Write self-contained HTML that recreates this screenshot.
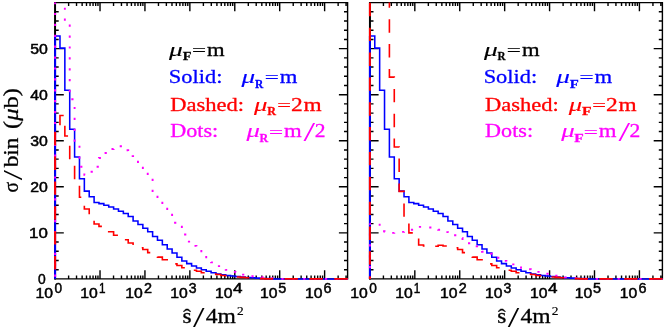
<!DOCTYPE html><html><head><meta charset='utf-8'><title>plot</title><style>html,body{margin:0;padding:0;background:#fff}</style></head><body><svg width='664' height='330' viewBox='0 0 664 330' style='display:block'>
<rect width='664' height='330' fill='#fff'/>
<path d='M55.1,2.6 H347.6 V278.9 H55.1 Z M68.62,278.9 v-3.5 M68.62,2.6 v3.5 M76.53,278.9 v-3.5 M76.53,2.6 v3.5 M82.14,278.9 v-3.5 M82.14,2.6 v3.5 M86.50,278.9 v-3.5 M86.50,2.6 v3.5 M90.05,278.9 v-3.5 M90.05,2.6 v3.5 M93.06,278.9 v-3.5 M93.06,2.6 v3.5 M95.67,278.9 v-3.5 M95.67,2.6 v3.5 M97.96,278.9 v-3.5 M97.96,2.6 v3.5 M100.02,278.9 v-8.7 M100.02,2.6 v8.7 M113.54,278.9 v-3.5 M113.54,2.6 v3.5 M121.45,278.9 v-3.5 M121.45,2.6 v3.5 M127.06,278.9 v-3.5 M127.06,2.6 v3.5 M131.42,278.9 v-3.5 M131.42,2.6 v3.5 M134.97,278.9 v-3.5 M134.97,2.6 v3.5 M137.98,278.9 v-3.5 M137.98,2.6 v3.5 M140.59,278.9 v-3.5 M140.59,2.6 v3.5 M142.88,278.9 v-3.5 M142.88,2.6 v3.5 M144.94,278.9 v-8.7 M144.94,2.6 v8.7 M158.46,278.9 v-3.5 M158.46,2.6 v3.5 M166.37,278.9 v-3.5 M166.37,2.6 v3.5 M171.98,278.9 v-3.5 M171.98,2.6 v3.5 M176.34,278.9 v-3.5 M176.34,2.6 v3.5 M179.89,278.9 v-3.5 M179.89,2.6 v3.5 M182.90,278.9 v-3.5 M182.90,2.6 v3.5 M185.51,278.9 v-3.5 M185.51,2.6 v3.5 M187.80,278.9 v-3.5 M187.80,2.6 v3.5 M189.86,278.9 v-8.7 M189.86,2.6 v8.7 M203.38,278.9 v-3.5 M203.38,2.6 v3.5 M211.29,278.9 v-3.5 M211.29,2.6 v3.5 M216.90,278.9 v-3.5 M216.90,2.6 v3.5 M221.26,278.9 v-3.5 M221.26,2.6 v3.5 M224.81,278.9 v-3.5 M224.81,2.6 v3.5 M227.82,278.9 v-3.5 M227.82,2.6 v3.5 M230.43,278.9 v-3.5 M230.43,2.6 v3.5 M232.72,278.9 v-3.5 M232.72,2.6 v3.5 M234.78,278.9 v-8.7 M234.78,2.6 v8.7 M248.30,278.9 v-3.5 M248.30,2.6 v3.5 M256.21,278.9 v-3.5 M256.21,2.6 v3.5 M261.82,278.9 v-3.5 M261.82,2.6 v3.5 M266.18,278.9 v-3.5 M266.18,2.6 v3.5 M269.73,278.9 v-3.5 M269.73,2.6 v3.5 M272.74,278.9 v-3.5 M272.74,2.6 v3.5 M275.35,278.9 v-3.5 M275.35,2.6 v3.5 M277.64,278.9 v-3.5 M277.64,2.6 v3.5 M279.70,278.9 v-8.7 M279.70,2.6 v8.7 M293.22,278.9 v-3.5 M293.22,2.6 v3.5 M301.13,278.9 v-3.5 M301.13,2.6 v3.5 M306.74,278.9 v-3.5 M306.74,2.6 v3.5 M311.10,278.9 v-3.5 M311.10,2.6 v3.5 M314.65,278.9 v-3.5 M314.65,2.6 v3.5 M317.66,278.9 v-3.5 M317.66,2.6 v3.5 M320.27,278.9 v-3.5 M320.27,2.6 v3.5 M322.56,278.9 v-3.5 M322.56,2.6 v3.5 M324.62,278.9 v-8.7 M324.62,2.6 v8.7 M338.14,278.9 v-3.5 M338.14,2.6 v3.5 M346.05,278.9 v-3.5 M346.05,2.6 v3.5 M55.1,269.69 h3.6 M347.6,269.69 h-3.6 M55.1,260.48 h3.6 M347.6,260.48 h-3.6 M55.1,251.27 h3.6 M347.6,251.27 h-3.6 M55.1,242.06 h3.6 M347.6,242.06 h-3.6 M55.1,232.85 h8.7 M347.6,232.85 h-8.7 M55.1,223.64 h3.6 M347.6,223.64 h-3.6 M55.1,214.43 h3.6 M347.6,214.43 h-3.6 M55.1,205.22 h3.6 M347.6,205.22 h-3.6 M55.1,196.01 h3.6 M347.6,196.01 h-3.6 M55.1,186.80 h8.7 M347.6,186.80 h-8.7 M55.1,177.59 h3.6 M347.6,177.59 h-3.6 M55.1,168.38 h3.6 M347.6,168.38 h-3.6 M55.1,159.17 h3.6 M347.6,159.17 h-3.6 M55.1,149.96 h3.6 M347.6,149.96 h-3.6 M55.1,140.75 h8.7 M347.6,140.75 h-8.7 M55.1,131.54 h3.6 M347.6,131.54 h-3.6 M55.1,122.33 h3.6 M347.6,122.33 h-3.6 M55.1,113.12 h3.6 M347.6,113.12 h-3.6 M55.1,103.91 h3.6 M347.6,103.91 h-3.6 M55.1,94.70 h8.7 M347.6,94.70 h-8.7 M55.1,85.49 h3.6 M347.6,85.49 h-3.6 M55.1,76.28 h3.6 M347.6,76.28 h-3.6 M55.1,67.07 h3.6 M347.6,67.07 h-3.6 M55.1,57.86 h3.6 M347.6,57.86 h-3.6 M55.1,48.65 h8.7 M347.6,48.65 h-8.7 M55.1,39.44 h3.6 M347.6,39.44 h-3.6 M55.1,30.23 h3.6 M347.6,30.23 h-3.6 M55.1,21.02 h3.6 M347.6,21.02 h-3.6 M55.1,11.81 h3.6 M347.6,11.81 h-3.6' fill='none' stroke='#000' stroke-width='1.4' stroke-linecap='butt'/><path d='M55.1,2.0 V279.5' fill='none' stroke='#000' stroke-width='1.9'/>
<path d='M369.90000000000003,2.6 H662.4000000000001 V278.9 H369.90000000000003 Z M383.42,278.9 v-3.5 M383.42,2.6 v3.5 M391.33,278.9 v-3.5 M391.33,2.6 v3.5 M396.94,278.9 v-3.5 M396.94,2.6 v3.5 M401.30,278.9 v-3.5 M401.30,2.6 v3.5 M404.85,278.9 v-3.5 M404.85,2.6 v3.5 M407.86,278.9 v-3.5 M407.86,2.6 v3.5 M410.47,278.9 v-3.5 M410.47,2.6 v3.5 M412.76,278.9 v-3.5 M412.76,2.6 v3.5 M414.82,278.9 v-8.7 M414.82,2.6 v8.7 M428.34,278.9 v-3.5 M428.34,2.6 v3.5 M436.25,278.9 v-3.5 M436.25,2.6 v3.5 M441.86,278.9 v-3.5 M441.86,2.6 v3.5 M446.22,278.9 v-3.5 M446.22,2.6 v3.5 M449.77,278.9 v-3.5 M449.77,2.6 v3.5 M452.78,278.9 v-3.5 M452.78,2.6 v3.5 M455.39,278.9 v-3.5 M455.39,2.6 v3.5 M457.68,278.9 v-3.5 M457.68,2.6 v3.5 M459.74,278.9 v-8.7 M459.74,2.6 v8.7 M473.26,278.9 v-3.5 M473.26,2.6 v3.5 M481.17,278.9 v-3.5 M481.17,2.6 v3.5 M486.78,278.9 v-3.5 M486.78,2.6 v3.5 M491.14,278.9 v-3.5 M491.14,2.6 v3.5 M494.69,278.9 v-3.5 M494.69,2.6 v3.5 M497.70,278.9 v-3.5 M497.70,2.6 v3.5 M500.31,278.9 v-3.5 M500.31,2.6 v3.5 M502.60,278.9 v-3.5 M502.60,2.6 v3.5 M504.66,278.9 v-8.7 M504.66,2.6 v8.7 M518.18,278.9 v-3.5 M518.18,2.6 v3.5 M526.09,278.9 v-3.5 M526.09,2.6 v3.5 M531.70,278.9 v-3.5 M531.70,2.6 v3.5 M536.06,278.9 v-3.5 M536.06,2.6 v3.5 M539.61,278.9 v-3.5 M539.61,2.6 v3.5 M542.62,278.9 v-3.5 M542.62,2.6 v3.5 M545.23,278.9 v-3.5 M545.23,2.6 v3.5 M547.52,278.9 v-3.5 M547.52,2.6 v3.5 M549.58,278.9 v-8.7 M549.58,2.6 v8.7 M563.10,278.9 v-3.5 M563.10,2.6 v3.5 M571.01,278.9 v-3.5 M571.01,2.6 v3.5 M576.62,278.9 v-3.5 M576.62,2.6 v3.5 M580.98,278.9 v-3.5 M580.98,2.6 v3.5 M584.53,278.9 v-3.5 M584.53,2.6 v3.5 M587.54,278.9 v-3.5 M587.54,2.6 v3.5 M590.15,278.9 v-3.5 M590.15,2.6 v3.5 M592.44,278.9 v-3.5 M592.44,2.6 v3.5 M594.50,278.9 v-8.7 M594.50,2.6 v8.7 M608.02,278.9 v-3.5 M608.02,2.6 v3.5 M615.93,278.9 v-3.5 M615.93,2.6 v3.5 M621.54,278.9 v-3.5 M621.54,2.6 v3.5 M625.90,278.9 v-3.5 M625.90,2.6 v3.5 M629.45,278.9 v-3.5 M629.45,2.6 v3.5 M632.46,278.9 v-3.5 M632.46,2.6 v3.5 M635.07,278.9 v-3.5 M635.07,2.6 v3.5 M637.36,278.9 v-3.5 M637.36,2.6 v3.5 M639.42,278.9 v-8.7 M639.42,2.6 v8.7 M652.94,278.9 v-3.5 M652.94,2.6 v3.5 M660.85,278.9 v-3.5 M660.85,2.6 v3.5 M369.90000000000003,269.69 h3.6 M662.4000000000001,269.69 h-3.6 M369.90000000000003,260.48 h3.6 M662.4000000000001,260.48 h-3.6 M369.90000000000003,251.27 h3.6 M662.4000000000001,251.27 h-3.6 M369.90000000000003,242.06 h3.6 M662.4000000000001,242.06 h-3.6 M369.90000000000003,232.85 h8.7 M662.4000000000001,232.85 h-8.7 M369.90000000000003,223.64 h3.6 M662.4000000000001,223.64 h-3.6 M369.90000000000003,214.43 h3.6 M662.4000000000001,214.43 h-3.6 M369.90000000000003,205.22 h3.6 M662.4000000000001,205.22 h-3.6 M369.90000000000003,196.01 h3.6 M662.4000000000001,196.01 h-3.6 M369.90000000000003,186.80 h8.7 M662.4000000000001,186.80 h-8.7 M369.90000000000003,177.59 h3.6 M662.4000000000001,177.59 h-3.6 M369.90000000000003,168.38 h3.6 M662.4000000000001,168.38 h-3.6 M369.90000000000003,159.17 h3.6 M662.4000000000001,159.17 h-3.6 M369.90000000000003,149.96 h3.6 M662.4000000000001,149.96 h-3.6 M369.90000000000003,140.75 h8.7 M662.4000000000001,140.75 h-8.7 M369.90000000000003,131.54 h3.6 M662.4000000000001,131.54 h-3.6 M369.90000000000003,122.33 h3.6 M662.4000000000001,122.33 h-3.6 M369.90000000000003,113.12 h3.6 M662.4000000000001,113.12 h-3.6 M369.90000000000003,103.91 h3.6 M662.4000000000001,103.91 h-3.6 M369.90000000000003,94.70 h8.7 M662.4000000000001,94.70 h-8.7 M369.90000000000003,85.49 h3.6 M662.4000000000001,85.49 h-3.6 M369.90000000000003,76.28 h3.6 M662.4000000000001,76.28 h-3.6 M369.90000000000003,67.07 h3.6 M662.4000000000001,67.07 h-3.6 M369.90000000000003,57.86 h3.6 M662.4000000000001,57.86 h-3.6 M369.90000000000003,48.65 h8.7 M662.4000000000001,48.65 h-8.7 M369.90000000000003,39.44 h3.6 M662.4000000000001,39.44 h-3.6 M369.90000000000003,30.23 h3.6 M662.4000000000001,30.23 h-3.6 M369.90000000000003,21.02 h3.6 M662.4000000000001,21.02 h-3.6 M369.90000000000003,11.81 h3.6 M662.4000000000001,11.81 h-3.6' fill='none' stroke='#000' stroke-width='1.4' stroke-linecap='butt'/><path d='M369.90000000000003,2.0 V279.5' fill='none' stroke='#000' stroke-width='1.9'/>
<path d='M55.10,278.90 L55.10,36.00' fill='none' stroke='#0000ff' stroke-width='2.0'/>
<path d='M55.10,36.00 L59.98,36.00 L59.98,48.10 L64.85,48.10 L64.85,90.30 L69.72,90.30 L69.72,129.20 L74.60,129.20 L74.60,157.00 L79.47,157.00 L79.47,178.80 L84.35,178.80 L84.35,191.10 L89.22,191.10 L89.22,196.80 L94.10,196.80 L94.10,202.40 L98.97,202.40 L98.97,203.60 L103.85,203.60 L103.85,205.20 L108.72,205.20 L108.72,207.00 L113.60,207.00 L113.60,208.90 L118.47,208.90 L118.47,211.20 L123.35,211.20 L123.35,213.50 L128.22,213.50 L128.22,216.50 L133.10,216.50 L133.10,221.00 L137.97,221.00 L137.97,224.50 L142.85,224.50 L142.85,228.20 L147.72,228.20 L147.72,231.80 L152.60,231.80 L152.60,236.40 L157.47,236.40 L157.47,240.30 L162.35,240.30 L162.35,244.80 L167.22,244.80 L167.22,248.90 L172.10,248.90 L172.10,253.00 L176.97,253.00 L176.97,257.30 L181.85,257.30 L181.85,261.00 L186.72,261.00 L186.72,263.60 L191.60,263.60 L191.60,266.00 L196.47,266.00 L196.47,267.90 L201.35,267.90 L201.35,269.70 L206.22,269.70 L206.22,271.20 L211.10,271.20 L211.10,272.70 L215.97,272.70 L215.97,273.90 L220.85,273.90 L220.85,274.80 L225.72,274.80 L225.72,275.50 L230.60,275.50 L230.60,276.00 L235.47,276.00 L235.47,276.50 L240.35,276.50 L240.35,277.00 L245.22,277.00 L245.22,277.40 L250.10,277.40 L250.10,277.80 L254.97,277.80 L254.97,278.10 L259.85,278.10 L259.85,278.40 L264.73,278.40 L264.73,278.60 L269.60,278.60 L269.60,278.90 L274.48,278.90 L274.48,278.90 L279.35,278.90 L279.35,278.90 L284.23,278.90 L284.23,278.90 L289.10,278.90 L289.10,278.90 L293.98,278.90 L293.98,278.90 L298.85,278.90 L298.85,278.90 L303.73,278.90 L303.73,278.90 L308.60,278.90 L308.60,278.90 L313.48,278.90 L313.48,278.90 L318.35,278.90 L318.35,278.90 L323.23,278.90 L323.23,278.90 L328.10,278.90 L328.10,278.90 L332.98,278.90 L332.98,278.90 L337.85,278.90 L337.85,278.90 L342.73,278.90 L342.73,278.90 L347.60,278.90' fill='none' stroke='#0000ff' stroke-width='1.55' stroke-linejoin='miter'/>
<path d='M55.10,278.90 L55.10,2.60' fill='none' stroke='#ff00ff' stroke-width='2.0' stroke-dasharray='2.2 8.7' stroke-dashoffset='-2.2'/>
<path d='M64.85,2.60 L64.85,22.50 L69.72,22.50 L69.72,99.30 L74.60,99.30 L74.60,143.00 L79.47,143.00 L79.47,166.70 L84.35,166.70 L84.35,174.90 L89.22,174.90 L89.22,171.70 L94.10,171.70 L94.10,166.80 L98.97,166.80 L98.97,158.00 L103.85,158.00 L103.85,153.00 L108.72,153.00 L108.72,149.00 L113.60,149.00 L113.60,147.20 L118.47,147.20 L118.47,146.30 L123.35,146.30 L123.35,150.30 L128.22,150.30 L128.22,156.10 L133.10,156.10 L133.10,159.00 L137.97,159.00 L137.97,165.00 L142.85,165.00 L142.85,171.00 L147.72,171.00 L147.72,178.50 L152.60,178.50 L152.60,193.00 L157.47,193.00 L157.47,200.00 L162.35,200.00 L162.35,206.00 L167.22,206.00 L167.22,212.00 L172.10,212.00 L172.10,222.70 L176.97,222.70 L176.97,225.50 L181.85,225.50 L181.85,234.50 L186.72,234.50 L186.72,241.60 L191.60,241.60 L191.60,245.90 L196.47,245.90 L196.47,249.00 L201.35,249.00 L201.35,254.00 L206.22,254.00 L206.22,259.50 L211.10,259.50 L211.10,262.40 L215.97,262.40 L215.97,266.10 L220.85,266.10 L220.85,268.50 L225.72,268.50 L225.72,269.90 L230.60,269.90 L230.60,271.90 L235.47,271.90 L235.47,272.20 L240.35,272.20 L240.35,274.60 L245.22,274.60 L245.22,275.40 L250.10,275.40 L250.10,276.20 L254.97,276.20 L254.97,276.80 L259.85,276.80 L259.85,277.20 L264.73,277.20 L264.73,277.80 L269.60,277.80 L269.60,278.30 L274.48,278.30 L274.48,278.50 L279.35,278.50 L279.35,278.90 L284.23,278.90 L284.23,278.90 L289.10,278.90 L289.10,278.90 L293.98,278.90 L293.98,278.90 L298.85,278.90 L298.85,278.90 L303.73,278.90 L303.73,278.90 L308.60,278.90 L308.60,278.90 L313.48,278.90 L313.48,278.90 L318.35,278.90 L318.35,278.90 L323.23,278.90 L323.23,278.90 L328.10,278.90 L328.10,278.90 L332.98,278.90 L332.98,278.90 L337.85,278.90 L337.85,278.90 L342.73,278.90 L342.73,278.90 L347.60,278.90' fill='none' stroke='#ff00ff' stroke-width='1.9' stroke-linejoin='miter' stroke-dasharray='2.2 8.7' stroke-dashoffset='-5.05'/>
<path d='M55.10,278.90 L55.10,131.00' fill='none' stroke='#ff0000' stroke-width='2.0' stroke-dasharray='13.4 11.45' stroke-dashoffset='-9.5'/>
<path d='M55.10,131.00 L59.98,131.00 L59.98,115.50 L64.85,115.50 L64.85,136.00 L69.72,136.00 L69.72,162.00 L74.60,162.00 L74.60,182.00 L79.47,182.00 L79.47,197.30 L84.35,197.30 L84.35,209.00 L89.22,209.00 L89.22,217.50 L94.10,217.50 L94.10,224.00 L98.97,224.00 L98.97,226.40 L103.85,226.40 L103.85,229.00 L108.72,229.00 L108.72,231.70 L113.60,231.70 L113.60,235.20 L118.47,235.20 L118.47,237.50 L123.35,237.50 L123.35,239.70 L128.22,239.70 L128.22,243.00 L133.10,243.00 L133.10,245.00 L137.97,245.00 L137.97,247.70 L142.85,247.70 L142.85,249.50 L147.72,249.50 L147.72,252.60 L152.60,252.60 L152.60,255.00 L157.47,255.00 L157.47,257.10 L162.35,257.10 L162.35,259.70 L167.22,259.70 L167.22,261.50 L172.10,261.50 L172.10,263.90 L176.97,263.90 L176.97,265.50 L181.85,265.50 L181.85,267.70 L186.72,267.70 L186.72,268.80 L191.60,268.80 L191.60,270.20 L196.47,270.20 L196.47,271.20 L201.35,271.20 L201.35,272.70 L206.22,272.70 L206.22,273.30 L211.10,273.30 L211.10,274.00 L215.97,274.00 L215.97,274.50 L220.85,274.50 L220.85,275.50 L225.72,275.50 L225.72,276.00 L230.60,276.00 L230.60,276.50 L235.47,276.50 L235.47,277.00 L240.35,277.00 L240.35,277.40 L245.22,277.40 L245.22,277.70 L250.10,277.70 L250.10,278.00 L254.97,278.00 L254.97,278.30 L259.85,278.30 L259.85,278.60 L264.73,278.60 L264.73,278.90 L269.60,278.90 L269.60,278.90 L274.48,278.90 L274.48,278.90 L279.35,278.90 L279.35,278.90 L284.23,278.90 L284.23,278.90 L289.10,278.90 L289.10,278.90 L293.98,278.90 L293.98,278.90 L298.85,278.90 L298.85,278.90 L303.73,278.90 L303.73,278.90 L308.60,278.90 L308.60,278.90 L313.48,278.90 L313.48,278.90 L318.35,278.90 L318.35,278.90 L323.23,278.90 L323.23,278.90 L328.10,278.90 L328.10,278.90 L332.98,278.90 L332.98,278.90 L337.85,278.90 L337.85,278.90 L342.73,278.90 L342.73,278.90 L347.60,278.90' fill='none' stroke='#ff0000' stroke-width='1.6' stroke-linejoin='miter' stroke-dasharray='13.4 11.45' stroke-dashoffset='138.40'/>
<path d='M369.90,278.90 L369.90,36.00' fill='none' stroke='#0000ff' stroke-width='2.0'/>
<path d='M369.90,36.00 L374.78,36.00 L374.78,48.10 L379.65,48.10 L379.65,90.30 L384.53,90.30 L384.53,129.20 L389.40,129.20 L389.40,157.00 L394.28,157.00 L394.28,178.80 L399.15,178.80 L399.15,191.10 L404.03,191.10 L404.03,196.80 L408.90,196.80 L408.90,202.40 L413.78,202.40 L413.78,203.60 L418.65,203.60 L418.65,205.20 L423.53,205.20 L423.53,207.00 L428.40,207.00 L428.40,208.90 L433.28,208.90 L433.28,211.20 L438.15,211.20 L438.15,213.50 L443.03,213.50 L443.03,216.50 L447.90,216.50 L447.90,221.00 L452.78,221.00 L452.78,224.50 L457.65,224.50 L457.65,228.20 L462.53,228.20 L462.53,231.80 L467.40,231.80 L467.40,236.40 L472.28,236.40 L472.28,240.30 L477.15,240.30 L477.15,244.80 L482.03,244.80 L482.03,248.90 L486.90,248.90 L486.90,253.00 L491.78,253.00 L491.78,257.30 L496.65,257.30 L496.65,261.00 L501.53,261.00 L501.53,263.60 L506.40,263.60 L506.40,266.00 L511.28,266.00 L511.28,267.90 L516.15,267.90 L516.15,269.70 L521.03,269.70 L521.03,271.20 L525.90,271.20 L525.90,272.70 L530.78,272.70 L530.78,273.90 L535.65,273.90 L535.65,274.80 L540.53,274.80 L540.53,275.50 L545.40,275.50 L545.40,276.00 L550.28,276.00 L550.28,276.50 L555.15,276.50 L555.15,277.00 L560.03,277.00 L560.03,277.40 L564.90,277.40 L564.90,277.80 L569.78,277.80 L569.78,278.10 L574.65,278.10 L574.65,278.40 L579.53,278.40 L579.53,278.60 L584.40,278.60 L584.40,278.90 L589.28,278.90 L589.28,278.90 L594.15,278.90 L594.15,278.90 L599.03,278.90 L599.03,278.90 L603.90,278.90 L603.90,278.90 L608.78,278.90 L608.78,278.90 L613.65,278.90 L613.65,278.90 L618.53,278.90 L618.53,278.90 L623.40,278.90 L623.40,278.90 L628.28,278.90 L628.28,278.90 L633.15,278.90 L633.15,278.90 L638.03,278.90 L638.03,278.90 L642.90,278.90 L642.90,278.90 L647.78,278.90 L647.78,278.90 L652.65,278.90 L652.65,278.90 L657.53,278.90 L657.53,278.90 L662.40,278.90' fill='none' stroke='#0000ff' stroke-width='1.55' stroke-linejoin='miter'/>
<path d='M369.90,278.90 L369.90,223.60' fill='none' stroke='#ff00ff' stroke-width='2.0' stroke-dasharray='2.2 8.7' stroke-dashoffset='0.3'/>
<path d='M369.90,223.60 L374.78,223.60 L374.78,223.60 L379.65,223.60 L379.65,231.10 L384.53,231.10 L384.53,231.70 L389.40,231.70 L389.40,232.90 L394.28,232.90 L394.28,232.30 L399.15,232.30 L399.15,231.90 L404.03,231.90 L404.03,231.00 L408.90,231.00 L408.90,229.80 L413.78,229.80 L413.78,227.50 L418.65,227.50 L418.65,226.90 L423.53,226.90 L423.53,227.30 L428.40,227.30 L428.40,227.50 L433.28,227.50 L433.28,228.70 L438.15,228.70 L438.15,229.70 L443.03,229.70 L443.03,232.10 L447.90,232.10 L447.90,233.00 L452.78,233.00 L452.78,235.30 L457.65,235.30 L457.65,238.00 L462.53,238.00 L462.53,240.50 L467.40,240.50 L467.40,243.20 L472.28,243.20 L472.28,246.40 L477.15,246.40 L477.15,249.00 L482.03,249.00 L482.03,251.70 L486.90,251.70 L486.90,253.70 L491.78,253.70 L491.78,256.00 L496.65,256.00 L496.65,257.70 L501.53,257.70 L501.53,260.90 L506.40,260.90 L506.40,262.00 L511.28,262.00 L511.28,264.40 L516.15,264.40 L516.15,266.00 L521.03,266.00 L521.03,267.80 L525.90,267.80 L525.90,269.30 L530.78,269.30 L530.78,270.50 L535.65,270.50 L535.65,271.90 L540.53,271.90 L540.53,272.80 L545.40,272.80 L545.40,273.80 L550.28,273.80 L550.28,274.80 L555.15,274.80 L555.15,275.80 L560.03,275.80 L560.03,276.60 L564.90,276.60 L564.90,277.40 L569.78,277.40 L569.78,277.70 L574.65,277.70 L574.65,278.10 L579.53,278.10 L579.53,278.40 L584.40,278.40 L584.40,278.70 L589.28,278.70 L589.28,278.90 L594.15,278.90 L594.15,278.90 L599.03,278.90 L599.03,278.90 L603.90,278.90 L603.90,278.90 L608.78,278.90 L608.78,278.90 L613.65,278.90 L613.65,278.90 L618.53,278.90 L618.53,278.90 L623.40,278.90 L623.40,278.90 L628.28,278.90 L628.28,278.90 L633.15,278.90 L633.15,278.90 L638.03,278.90 L638.03,278.90 L642.90,278.90 L642.90,278.90 L647.78,278.90 L647.78,278.90 L652.65,278.90 L652.65,278.90 L657.53,278.90 L657.53,278.90 L662.40,278.90' fill='none' stroke='#ff00ff' stroke-width='1.9' stroke-linejoin='miter' stroke-dasharray='2.2 8.7' stroke-dashoffset='55.60'/>
<path d='M369.90,278.90 L369.90,2.60' fill='none' stroke='#ff0000' stroke-width='2.0' stroke-dasharray='13.4 11.45' stroke-dashoffset='10.7'/>
<path d='M389.40,2.60 L389.40,77.10 L394.28,77.10 L394.28,147.00 L399.15,147.00 L399.15,191.40 L404.03,191.40 L404.03,220.00 L408.90,220.00 L408.90,232.90 L413.78,232.90 L413.78,237.00 L418.65,237.00 L418.65,245.00 L423.53,245.00 L423.53,246.00 L428.40,246.00 L428.40,246.50 L433.28,246.50 L433.28,246.20 L438.15,246.20 L438.15,245.20 L443.03,245.20 L443.03,246.00 L447.90,246.00 L447.90,247.00 L452.78,247.00 L452.78,247.70 L457.65,247.70 L457.65,249.50 L462.53,249.50 L462.53,252.60 L467.40,252.60 L467.40,255.00 L472.28,255.00 L472.28,257.10 L477.15,257.10 L477.15,259.70 L482.03,259.70 L482.03,261.50 L486.90,261.50 L486.90,263.90 L491.78,263.90 L491.78,265.50 L496.65,265.50 L496.65,267.70 L501.53,267.70 L501.53,268.80 L506.40,268.80 L506.40,270.20 L511.28,270.20 L511.28,271.20 L516.15,271.20 L516.15,272.70 L521.03,272.70 L521.03,273.30 L525.90,273.30 L525.90,274.00 L530.78,274.00 L530.78,274.50 L535.65,274.50 L535.65,275.50 L540.53,275.50 L540.53,276.00 L545.40,276.00 L545.40,276.50 L550.28,276.50 L550.28,277.00 L555.15,277.00 L555.15,277.40 L560.03,277.40 L560.03,277.70 L564.90,277.70 L564.90,278.00 L569.78,278.00 L569.78,278.30 L574.65,278.30 L574.65,278.60 L579.53,278.60 L579.53,278.90 L584.40,278.90 L584.40,278.90 L589.28,278.90 L589.28,278.90 L594.15,278.90 L594.15,278.90 L599.03,278.90 L599.03,278.90 L603.90,278.90 L603.90,278.90 L608.78,278.90 L608.78,278.90 L613.65,278.90 L613.65,278.90 L618.53,278.90 L618.53,278.90 L623.40,278.90 L623.40,278.90 L628.28,278.90 L628.28,278.90 L633.15,278.90 L633.15,278.90 L638.03,278.90 L638.03,278.90 L642.90,278.90 L642.90,278.90 L647.78,278.90 L647.78,278.90 L652.65,278.90 L652.65,278.90 L657.53,278.90 L657.53,278.90 L662.40,278.90' fill='none' stroke='#ff0000' stroke-width='1.6' stroke-linejoin='miter' stroke-dasharray='13.4 11.45' stroke-dashoffset='8.2'/>
<g style='opacity:0.999'>
<text transform='translate(169.10,55.70) scale(1.4333,1.0000)' style='font-family:"Liberation Serif", serif;font-size:19.2px;font-weight:normal;font-style:italic;fill:#000000;stroke:#000000;stroke-width:0.12px;'>μ</text>
<text transform='translate(182.70,60.00) scale(1.1857,1.0000)' style='font-family:"Liberation Serif", serif;font-size:12px;font-weight:bold;font-style:normal;fill:#000000;stroke:#000000;stroke-width:0.3px;'>F</text>
<text transform='translate(191.90,56.18) scale(1.3000,0.8200)' style='font-family:"Liberation Serif", serif;font-size:19.2px;font-weight:normal;font-style:normal;fill:#000000;stroke:#000000;stroke-width:0.3px;'>=</text>
<text transform='translate(207.10,55.70) scale(1.1800,1.0000)' style='font-family:"Liberation Serif", serif;font-size:19.2px;font-weight:normal;font-style:normal;fill:#000000;stroke:#000000;stroke-width:0.3px;'>m</text>
<text transform='translate(168.83,82.90) scale(1.1682,1.0000)' style='font-family:"Liberation Serif", serif;font-size:19.2px;font-weight:normal;font-style:normal;fill:#0000ff;stroke:#0000ff;stroke-width:0.3px;'>Solid:</text>
<text transform='translate(241.40,82.90) scale(1.4222,1.0000)' style='font-family:"Liberation Serif", serif;font-size:19.2px;font-weight:normal;font-style:italic;fill:#0000ff;stroke:#0000ff;stroke-width:0.12px;'>μ</text>
<text transform='translate(255.00,87.70) scale(0.9556,1.0000)' style='font-family:"Liberation Serif", serif;font-size:12px;font-weight:bold;font-style:normal;fill:#0000ff;stroke:#0000ff;stroke-width:0.3px;'>R</text>
<text transform='translate(264.70,83.38) scale(1.3000,0.8200)' style='font-family:"Liberation Serif", serif;font-size:19.2px;font-weight:normal;font-style:normal;fill:#0000ff;stroke:#0000ff;stroke-width:0.3px;'>=</text>
<text transform='translate(279.70,82.90) scale(1.1800,1.0000)' style='font-family:"Liberation Serif", serif;font-size:19.2px;font-weight:normal;font-style:normal;fill:#0000ff;stroke:#0000ff;stroke-width:0.3px;'>m</text>
<text transform='translate(170.30,110.50) scale(1.1726,1.0000)' style='font-family:"Liberation Serif", serif;font-size:19.2px;font-weight:normal;font-style:normal;fill:#ff0000;stroke:#ff0000;stroke-width:0.3px;'>Dashed:</text>
<text transform='translate(253.90,110.50) scale(1.4000,1.0000)' style='font-family:"Liberation Serif", serif;font-size:19.2px;font-weight:normal;font-style:italic;fill:#ff0000;stroke:#ff0000;stroke-width:0.12px;'>μ</text>
<text transform='translate(267.30,115.20) scale(1.0111,1.0000)' style='font-family:"Liberation Serif", serif;font-size:12px;font-weight:bold;font-style:normal;fill:#ff0000;stroke:#ff0000;stroke-width:0.3px;'>R</text>
<text transform='translate(277.33,110.98) scale(1.2667,0.8200)' style='font-family:"Liberation Serif", serif;font-size:19.2px;font-weight:normal;font-style:normal;fill:#ff0000;stroke:#ff0000;stroke-width:0.3px;'>=</text>
<text transform='translate(291.07,110.50) scale(1.2250,1.0000)' style='font-family:"Liberation Serif", serif;font-size:19.2px;font-weight:normal;font-style:normal;fill:#ff0000;stroke:#ff0000;stroke-width:0.3px;'>2</text>
<text transform='translate(303.60,110.50) scale(1.2133,1.0000)' style='font-family:"Liberation Serif", serif;font-size:19.2px;font-weight:normal;font-style:normal;fill:#ff0000;stroke:#ff0000;stroke-width:0.3px;'>m</text>
<text transform='translate(170.30,137.30) scale(1.1525,1.0000)' style='font-family:"Liberation Serif", serif;font-size:19.2px;font-weight:normal;font-style:normal;fill:#ff00ff;stroke:#ff00ff;stroke-width:0.3px;'>Dots:</text>
<text transform='translate(246.40,137.30) scale(1.4000,1.0000)' style='font-family:"Liberation Serif", serif;font-size:19.2px;font-weight:normal;font-style:italic;fill:#ff00ff;stroke:#ff00ff;stroke-width:0.12px;'>μ</text>
<text transform='translate(259.50,142.00) scale(1.0000,1.0000)' style='font-family:"Liberation Serif", serif;font-size:12px;font-weight:bold;font-style:normal;fill:#ff00ff;stroke:#ff00ff;stroke-width:0.3px;'>R</text>
<text transform='translate(269.00,137.78) scale(1.3000,0.8200)' style='font-family:"Liberation Serif", serif;font-size:19.2px;font-weight:normal;font-style:normal;fill:#ff00ff;stroke:#ff00ff;stroke-width:0.3px;'>=</text>
<text transform='translate(284.00,137.30) scale(1.1867,1.0000)' style='font-family:"Liberation Serif", serif;font-size:19.2px;font-weight:normal;font-style:normal;fill:#ff00ff;stroke:#ff00ff;stroke-width:0.3px;'>m</text>
<text transform='translate(303.60,140.90) scale(2.1800,1.4615)' style='font-family:"Liberation Serif", serif;font-size:19.2px;font-weight:normal;font-style:normal;fill:#ff00ff;'>/</text>
<text transform='translate(314.68,137.30) scale(1.1250,1.0000)' style='font-family:"Liberation Serif", serif;font-size:19.2px;font-weight:normal;font-style:normal;fill:#ff00ff;stroke:#ff00ff;stroke-width:0.3px;'>2</text>
<text transform='translate(483.90,55.70) scale(1.4333,1.0000)' style='font-family:"Liberation Serif", serif;font-size:19.2px;font-weight:normal;font-style:italic;fill:#000000;stroke:#000000;stroke-width:0.12px;'>μ</text>
<text transform='translate(497.50,60.00) scale(0.9222,1.0000)' style='font-family:"Liberation Serif", serif;font-size:12px;font-weight:bold;font-style:normal;fill:#000000;stroke:#000000;stroke-width:0.3px;'>R</text>
<text transform='translate(506.70,56.18) scale(1.3000,0.8200)' style='font-family:"Liberation Serif", serif;font-size:19.2px;font-weight:normal;font-style:normal;fill:#000000;stroke:#000000;stroke-width:0.3px;'>=</text>
<text transform='translate(521.90,55.70) scale(1.1800,1.0000)' style='font-family:"Liberation Serif", serif;font-size:19.2px;font-weight:normal;font-style:normal;fill:#000000;stroke:#000000;stroke-width:0.3px;'>m</text>
<text transform='translate(483.63,82.90) scale(1.1682,1.0000)' style='font-family:"Liberation Serif", serif;font-size:19.2px;font-weight:normal;font-style:normal;fill:#0000ff;stroke:#0000ff;stroke-width:0.3px;'>Solid:</text>
<text transform='translate(556.20,82.90) scale(1.4222,1.0000)' style='font-family:"Liberation Serif", serif;font-size:19.2px;font-weight:normal;font-style:italic;fill:#0000ff;stroke:#0000ff;stroke-width:0.12px;'>μ</text>
<text transform='translate(569.80,87.70) scale(1.2286,1.0000)' style='font-family:"Liberation Serif", serif;font-size:12px;font-weight:bold;font-style:normal;fill:#0000ff;stroke:#0000ff;stroke-width:0.3px;'>F</text>
<text transform='translate(579.50,83.38) scale(1.3000,0.8200)' style='font-family:"Liberation Serif", serif;font-size:19.2px;font-weight:normal;font-style:normal;fill:#0000ff;stroke:#0000ff;stroke-width:0.3px;'>=</text>
<text transform='translate(594.50,82.90) scale(1.1800,1.0000)' style='font-family:"Liberation Serif", serif;font-size:19.2px;font-weight:normal;font-style:normal;fill:#0000ff;stroke:#0000ff;stroke-width:0.3px;'>m</text>
<text transform='translate(485.10,110.50) scale(1.1726,1.0000)' style='font-family:"Liberation Serif", serif;font-size:19.2px;font-weight:normal;font-style:normal;fill:#ff0000;stroke:#ff0000;stroke-width:0.3px;'>Dashed:</text>
<text transform='translate(568.70,110.50) scale(1.4000,1.0000)' style='font-family:"Liberation Serif", serif;font-size:19.2px;font-weight:normal;font-style:italic;fill:#ff0000;stroke:#ff0000;stroke-width:0.12px;'>μ</text>
<text transform='translate(582.10,115.20) scale(1.3000,1.0000)' style='font-family:"Liberation Serif", serif;font-size:12px;font-weight:bold;font-style:normal;fill:#ff0000;stroke:#ff0000;stroke-width:0.3px;'>F</text>
<text transform='translate(592.13,110.98) scale(1.2667,0.8200)' style='font-family:"Liberation Serif", serif;font-size:19.2px;font-weight:normal;font-style:normal;fill:#ff0000;stroke:#ff0000;stroke-width:0.3px;'>=</text>
<text transform='translate(605.88,110.50) scale(1.2250,1.0000)' style='font-family:"Liberation Serif", serif;font-size:19.2px;font-weight:normal;font-style:normal;fill:#ff0000;stroke:#ff0000;stroke-width:0.3px;'>2</text>
<text transform='translate(618.40,110.50) scale(1.2133,1.0000)' style='font-family:"Liberation Serif", serif;font-size:19.2px;font-weight:normal;font-style:normal;fill:#ff0000;stroke:#ff0000;stroke-width:0.3px;'>m</text>
<text transform='translate(485.10,137.30) scale(1.1525,1.0000)' style='font-family:"Liberation Serif", serif;font-size:19.2px;font-weight:normal;font-style:normal;fill:#ff00ff;stroke:#ff00ff;stroke-width:0.3px;'>Dots:</text>
<text transform='translate(561.20,137.30) scale(1.4000,1.0000)' style='font-family:"Liberation Serif", serif;font-size:19.2px;font-weight:normal;font-style:italic;fill:#ff00ff;stroke:#ff00ff;stroke-width:0.12px;'>μ</text>
<text transform='translate(574.30,142.00) scale(1.2857,1.0000)' style='font-family:"Liberation Serif", serif;font-size:12px;font-weight:bold;font-style:normal;fill:#ff00ff;stroke:#ff00ff;stroke-width:0.3px;'>F</text>
<text transform='translate(583.80,137.78) scale(1.3000,0.8200)' style='font-family:"Liberation Serif", serif;font-size:19.2px;font-weight:normal;font-style:normal;fill:#ff00ff;stroke:#ff00ff;stroke-width:0.3px;'>=</text>
<text transform='translate(598.80,137.30) scale(1.1867,1.0000)' style='font-family:"Liberation Serif", serif;font-size:19.2px;font-weight:normal;font-style:normal;fill:#ff00ff;stroke:#ff00ff;stroke-width:0.3px;'>m</text>
<text transform='translate(618.40,140.90) scale(2.1800,1.4615)' style='font-family:"Liberation Serif", serif;font-size:19.2px;font-weight:normal;font-style:normal;fill:#ff00ff;'>/</text>
<text transform='translate(629.48,137.30) scale(1.1250,1.0000)' style='font-family:"Liberation Serif", serif;font-size:19.2px;font-weight:normal;font-style:normal;fill:#ff00ff;stroke:#ff00ff;stroke-width:0.3px;'>2</text>
<text transform='translate(38.00,284.30) scale(0.9625,1.0000)' style='font-family:"Liberation Sans", sans-serif;font-size:14.4px;font-weight:normal;font-style:normal;fill:#000000;stroke:#000000;stroke-width:0.5px;'>0</text>
<text transform='translate(29.03,238.25) scale(1.1733,1.0000)' style='font-family:"Liberation Sans", sans-serif;font-size:14.4px;font-weight:normal;font-style:normal;fill:#000000;stroke:#000000;stroke-width:0.5px;'>10</text>
<text transform='translate(30.20,192.20) scale(1.1000,1.0000)' style='font-family:"Liberation Sans", sans-serif;font-size:14.4px;font-weight:normal;font-style:normal;fill:#000000;stroke:#000000;stroke-width:0.5px;'>20</text>
<text transform='translate(30.20,146.15) scale(1.1000,1.0000)' style='font-family:"Liberation Sans", sans-serif;font-size:14.4px;font-weight:normal;font-style:normal;fill:#000000;stroke:#000000;stroke-width:0.5px;'>30</text>
<text transform='translate(30.20,100.10) scale(1.1000,1.0000)' style='font-family:"Liberation Sans", sans-serif;font-size:14.4px;font-weight:normal;font-style:normal;fill:#000000;stroke:#000000;stroke-width:0.5px;'>40</text>
<text transform='translate(30.20,54.05) scale(1.1000,1.0000)' style='font-family:"Liberation Sans", sans-serif;font-size:14.4px;font-weight:normal;font-style:normal;fill:#000000;stroke:#000000;stroke-width:0.5px;'>50</text>
<text transform='translate(35.41,298.40) scale(1.0933,1.0000)' style='font-family:"Liberation Sans", sans-serif;font-size:14.4px;font-weight:normal;font-style:normal;fill:#000000;stroke:#000000;stroke-width:0.5px;'>10</text>
<text transform='translate(54.40,292.80) scale(0.9500,1.0000)' style='font-family:"Liberation Sans", sans-serif;font-size:14.4px;font-weight:normal;font-style:normal;fill:#000000;stroke:#000000;stroke-width:0.5px;'>0</text>
<text transform='translate(80.33,298.40) scale(1.0933,1.0000)' style='font-family:"Liberation Sans", sans-serif;font-size:14.4px;font-weight:normal;font-style:normal;fill:#000000;stroke:#000000;stroke-width:0.5px;'>10</text>
<text transform='translate(99.01,292.80) scale(0.8143,1.0000)' style='font-family:"Liberation Sans", sans-serif;font-size:14.4px;font-weight:normal;font-style:normal;fill:#000000;stroke:#000000;stroke-width:0.5px;'>1</text>
<text transform='translate(125.25,298.40) scale(1.0933,1.0000)' style='font-family:"Liberation Sans", sans-serif;font-size:14.4px;font-weight:normal;font-style:normal;fill:#000000;stroke:#000000;stroke-width:0.5px;'>10</text>
<text transform='translate(143.94,292.80) scale(1.0000,1.0000)' style='font-family:"Liberation Sans", sans-serif;font-size:14.4px;font-weight:normal;font-style:normal;fill:#000000;stroke:#000000;stroke-width:0.5px;'>2</text>
<text transform='translate(170.17,298.40) scale(1.0933,1.0000)' style='font-family:"Liberation Sans", sans-serif;font-size:14.4px;font-weight:normal;font-style:normal;fill:#000000;stroke:#000000;stroke-width:0.5px;'>10</text>
<text transform='translate(188.66,292.80) scale(0.9750,1.0000)' style='font-family:"Liberation Sans", sans-serif;font-size:14.4px;font-weight:normal;font-style:normal;fill:#000000;stroke:#000000;stroke-width:0.5px;'>3</text>
<text transform='translate(215.09,298.40) scale(1.0933,1.0000)' style='font-family:"Liberation Sans", sans-serif;font-size:14.4px;font-weight:normal;font-style:normal;fill:#000000;stroke:#000000;stroke-width:0.5px;'>10</text>
<text transform='translate(233.08,292.80) scale(1.1875,1.0000)' style='font-family:"Liberation Sans", sans-serif;font-size:14.4px;font-weight:normal;font-style:normal;fill:#000000;stroke:#000000;stroke-width:0.5px;'>4</text>
<text transform='translate(260.01,298.40) scale(1.0933,1.0000)' style='font-family:"Liberation Sans", sans-serif;font-size:14.4px;font-weight:normal;font-style:normal;fill:#000000;stroke:#000000;stroke-width:0.5px;'>10</text>
<text transform='translate(278.20,292.80) scale(1.0000,1.0000)' style='font-family:"Liberation Sans", sans-serif;font-size:14.4px;font-weight:normal;font-style:normal;fill:#000000;stroke:#000000;stroke-width:0.5px;'>5</text>
<text transform='translate(304.93,298.40) scale(1.0933,1.0000)' style='font-family:"Liberation Sans", sans-serif;font-size:14.4px;font-weight:normal;font-style:normal;fill:#000000;stroke:#000000;stroke-width:0.5px;'>10</text>
<text transform='translate(323.62,292.80) scale(1.0000,1.0000)' style='font-family:"Liberation Sans", sans-serif;font-size:14.4px;font-weight:normal;font-style:normal;fill:#000000;stroke:#000000;stroke-width:0.5px;'>6</text>
<text transform='translate(182.53,322.90) scale(1.1667,1.0000)' style='font-family:"Liberation Serif", serif;font-size:20px;font-weight:normal;font-style:normal;fill:#000000;stroke:#000000;stroke-width:0.3px;'>ŝ</text>
<text transform='translate(193.00,326.80) scale(2.0667,1.4214)' style='font-family:"Liberation Serif", serif;font-size:20px;font-weight:normal;font-style:normal;fill:#000000;'>/</text>
<text transform='translate(205.70,322.90) scale(1.1800,1.0000)' style='font-family:"Liberation Serif", serif;font-size:20px;font-weight:normal;font-style:normal;fill:#000000;stroke:#000000;stroke-width:0.3px;'>4m</text>
<text transform='translate(237.00,314.60) scale(1.1167,1.0000)' style='font-family:"Liberation Serif", serif;font-size:12px;font-weight:normal;font-style:normal;fill:#000000;stroke:#000000;stroke-width:0.2px;'>2</text>
<text transform='translate(350.21,298.40) scale(1.0933,1.0000)' style='font-family:"Liberation Sans", sans-serif;font-size:14.4px;font-weight:normal;font-style:normal;fill:#000000;stroke:#000000;stroke-width:0.5px;'>10</text>
<text transform='translate(369.20,292.80) scale(0.9500,1.0000)' style='font-family:"Liberation Sans", sans-serif;font-size:14.4px;font-weight:normal;font-style:normal;fill:#000000;stroke:#000000;stroke-width:0.5px;'>0</text>
<text transform='translate(395.13,298.40) scale(1.0933,1.0000)' style='font-family:"Liberation Sans", sans-serif;font-size:14.4px;font-weight:normal;font-style:normal;fill:#000000;stroke:#000000;stroke-width:0.5px;'>10</text>
<text transform='translate(413.81,292.80) scale(0.8143,1.0000)' style='font-family:"Liberation Sans", sans-serif;font-size:14.4px;font-weight:normal;font-style:normal;fill:#000000;stroke:#000000;stroke-width:0.5px;'>1</text>
<text transform='translate(440.05,298.40) scale(1.0933,1.0000)' style='font-family:"Liberation Sans", sans-serif;font-size:14.4px;font-weight:normal;font-style:normal;fill:#000000;stroke:#000000;stroke-width:0.5px;'>10</text>
<text transform='translate(458.74,292.80) scale(1.0000,1.0000)' style='font-family:"Liberation Sans", sans-serif;font-size:14.4px;font-weight:normal;font-style:normal;fill:#000000;stroke:#000000;stroke-width:0.5px;'>2</text>
<text transform='translate(484.97,298.40) scale(1.0933,1.0000)' style='font-family:"Liberation Sans", sans-serif;font-size:14.4px;font-weight:normal;font-style:normal;fill:#000000;stroke:#000000;stroke-width:0.5px;'>10</text>
<text transform='translate(503.46,292.80) scale(0.9750,1.0000)' style='font-family:"Liberation Sans", sans-serif;font-size:14.4px;font-weight:normal;font-style:normal;fill:#000000;stroke:#000000;stroke-width:0.5px;'>3</text>
<text transform='translate(529.89,298.40) scale(1.0933,1.0000)' style='font-family:"Liberation Sans", sans-serif;font-size:14.4px;font-weight:normal;font-style:normal;fill:#000000;stroke:#000000;stroke-width:0.5px;'>10</text>
<text transform='translate(547.88,292.80) scale(1.1875,1.0000)' style='font-family:"Liberation Sans", sans-serif;font-size:14.4px;font-weight:normal;font-style:normal;fill:#000000;stroke:#000000;stroke-width:0.5px;'>4</text>
<text transform='translate(574.81,298.40) scale(1.0933,1.0000)' style='font-family:"Liberation Sans", sans-serif;font-size:14.4px;font-weight:normal;font-style:normal;fill:#000000;stroke:#000000;stroke-width:0.5px;'>10</text>
<text transform='translate(593.00,292.80) scale(1.0000,1.0000)' style='font-family:"Liberation Sans", sans-serif;font-size:14.4px;font-weight:normal;font-style:normal;fill:#000000;stroke:#000000;stroke-width:0.5px;'>5</text>
<text transform='translate(619.73,298.40) scale(1.0933,1.0000)' style='font-family:"Liberation Sans", sans-serif;font-size:14.4px;font-weight:normal;font-style:normal;fill:#000000;stroke:#000000;stroke-width:0.5px;'>10</text>
<text transform='translate(638.42,292.80) scale(1.0000,1.0000)' style='font-family:"Liberation Sans", sans-serif;font-size:14.4px;font-weight:normal;font-style:normal;fill:#000000;stroke:#000000;stroke-width:0.5px;'>6</text>
<text transform='translate(497.33,322.90) scale(1.1667,1.0000)' style='font-family:"Liberation Serif", serif;font-size:20px;font-weight:normal;font-style:normal;fill:#000000;stroke:#000000;stroke-width:0.3px;'>ŝ</text>
<text transform='translate(507.80,326.80) scale(2.0667,1.4214)' style='font-family:"Liberation Serif", serif;font-size:20px;font-weight:normal;font-style:normal;fill:#000000;'>/</text>
<text transform='translate(520.50,322.90) scale(1.1800,1.0000)' style='font-family:"Liberation Serif", serif;font-size:20px;font-weight:normal;font-style:normal;fill:#000000;stroke:#000000;stroke-width:0.3px;'>4m</text>
<text transform='translate(551.80,314.60) scale(1.1167,1.0000)' style='font-family:"Liberation Serif", serif;font-size:12px;font-weight:normal;font-style:normal;fill:#000000;stroke:#000000;stroke-width:0.2px;'>2</text>
<text transform='rotate(-90) translate(-192.57,18.00) scale(0.9700,1.0000)' style='font-family:"Liberation Serif", serif;font-size:20px;font-weight:normal;font-style:normal;fill:#000000;stroke:#000000;stroke-width:0.3px;'>σ</text>
<text transform='rotate(-90) translate(-180.30,21.60) scale(1.8333,1.3929)' style='font-family:"Liberation Serif", serif;font-size:20px;font-weight:normal;font-style:normal;fill:#000000;'>/</text>
<text transform='rotate(-90) translate(-167.30,18.00) scale(1.1600,1.0000)' style='font-family:"Liberation Serif", serif;font-size:20px;font-weight:normal;font-style:normal;fill:#000000;stroke:#000000;stroke-width:0.3px;'>bin</text>
<text transform='rotate(-90) translate(-128.92,18.00) scale(1.2219,1.0000)' style='font-family:"Liberation Serif", serif;font-size:20px;font-weight:normal;font-style:normal;fill:#000000;stroke:#000000;stroke-width:0.3px;'>(<tspan font-style="italic">μ</tspan>b)</text>
</g>
</svg></body></html>
